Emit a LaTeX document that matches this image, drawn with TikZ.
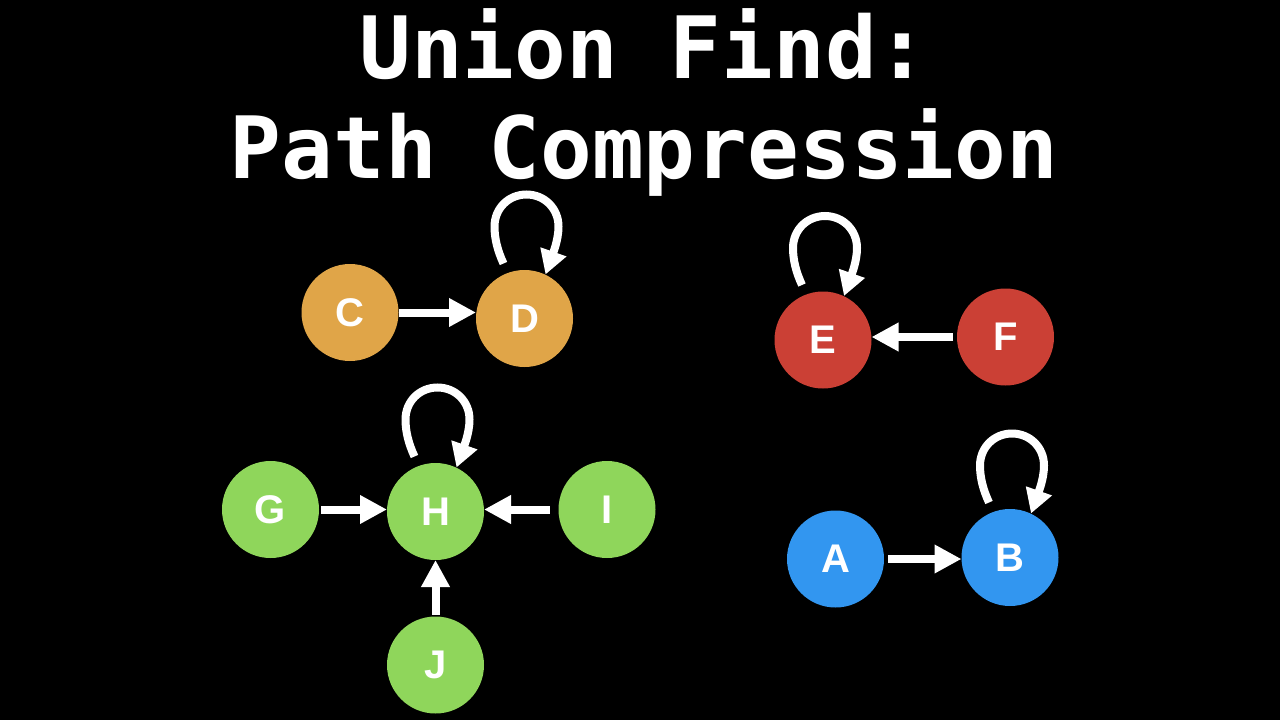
\documentclass[tikz,border=0pt]{standalone}
\usepackage{fontspec}
\setmainfont{Liberation Sans}
\newfontfamily\titlefont{DejaVu Sans Mono}
\usetikzlibrary{arrows.meta}
\definecolor{ufOrange}{RGB}{224,165,72}
\definecolor{ufRed}{RGB}{203,64,53}
\definecolor{ufGreen}{RGB}{143,214,91}
\definecolor{ufBlue}{RGB}{50,150,240}
\tikzset{
  ufnode/.style={circle,minimum size=97pt,inner sep=0pt,outer sep=0pt,text=white,
    font=\fontsize{40}{40}\selectfont\bfseries},
  ufedge/.style={draw=white,line width=8pt,-{Triangle[width=27pt,length=27pt]}},
  ufloop/.style={draw=white,line width=8pt,-{Triangle[width=26pt,length=24pt]}},
  titletext/.style={text=white,anchor=base,inner sep=0pt,
    font=\titlefont\bfseries\fontsize{86}{100}\selectfont}
}
\newcommand{\ufselfloop}[1]{%
  \draw[ufloop] ([shift={(-21,-55)}]#1.center)
    .. controls ([shift={(-27,-68)}]#1.center) and ([shift={(-30,-80)}]#1.center)
    .. ([shift={(-30,-92)}]#1.center)
    .. controls ([shift={(-30,-110)}]#1.center) and ([shift={(-16,-124)}]#1.center)
    .. ([shift={(2,-124)}]#1.center)
    .. controls ([shift={(20,-124)}]#1.center) and ([shift={(34,-110)}]#1.center)
    .. ([shift={(34,-92)}]#1.center)
    .. controls ([shift={(34,-78)}]#1.center) and ([shift={(28,-64)}]#1.center)
    .. ([shift={(21,-44)}]#1.center);}
\begin{document}
\begin{tikzpicture}[x=1pt,y=-1pt]
\fill[black] (0,0) rectangle (1280,720);
\useasboundingbox (0,0) rectangle (1280,720);
% title
\node[titletext] (t1) at (644,78) {Union Find:};
\node[titletext] (t2) at (644,178) {Path Compression};
% nodes
\node[ufnode,fill=ufOrange] (C) at (350,312.5) {C};
\node[ufnode,fill=ufOrange] (D) at (524.5,318.5) {D};
\node[ufnode,fill=ufRed] (E) at (823,340) {E};
\node[ufnode,fill=ufRed] (F) at (1005.5,337) {F};
\node[ufnode,fill=ufGreen] (G) at (270.5,509.5) {G};
\node[ufnode,fill=ufGreen] (H) at (435.5,511.5) {H};
\node[ufnode,fill=ufGreen] (I) at (607,509.5) {I};
\node[ufnode,fill=ufGreen] (J) at (435.5,665) {J};
\node[ufnode,fill=ufBlue] (A) at (835.5,559) {A};
\node[ufnode,fill=ufBlue] (B) at (1010,557.5) {B};
% edges
\draw[ufedge] (C.east) -- (D.west |- C.east);
\draw[ufedge,shorten <=4pt] (F.west) -- (E.east |- F.west);
\draw[ufedge,shorten <=2pt] (G.east) -- (H.west |- G.east);
\draw[ufedge,shorten <=9pt] (I.west) -- (H.east |- I.west);
\draw[ufedge,shorten <=2pt] (J) -- (H);
\draw[ufedge,shorten <=4pt] (A.east) -- (B.west |- A.east);
% self loops
\ufselfloop{D}
\ufselfloop{E}
\ufselfloop{H}
\ufselfloop{B}
\end{tikzpicture}
\end{document}
